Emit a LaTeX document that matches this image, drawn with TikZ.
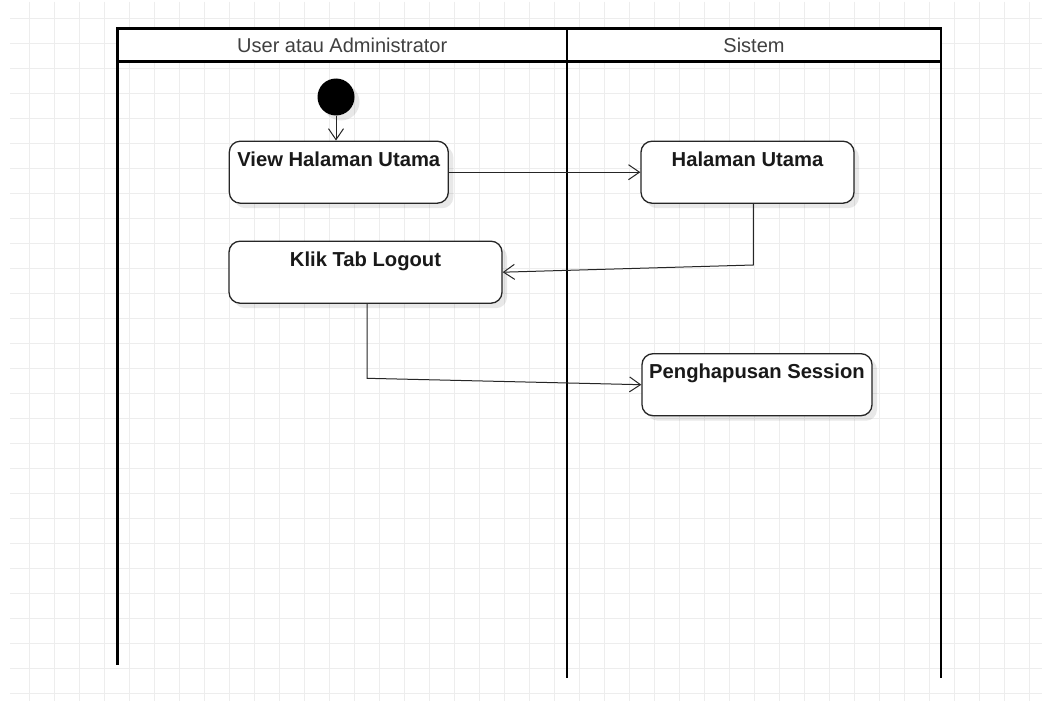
\documentclass[tikz,border=0pt]{standalone}
\usepackage{fontspec}
\setmainfont{Liberation Sans}
\usetikzlibrary{arrows.meta,shadows,calc}
\begin{document}
\begin{tikzpicture}[x=1pt,y=-1pt,
  gridline/.style={draw=black!7, line width=1pt},
  lane/.style={draw=black, line width=2.5pt},
  lanehead/.style={draw=black, line width=2.5pt, fill=white, font=\fontsize{20}{24}\selectfont, text=black!75, inner sep=0pt, minimum height=32.6pt},
  act/.style={draw=black!85, line width=1.3pt, rounded corners=11pt, fill=white,
    font=\bfseries\fontsize{20.2}{24}\selectfont, text=black!90,
    inner xsep=0pt, inner ysep=5pt, text height=20pt, text depth=32pt,
    drop shadow={shadow xshift=5pt, shadow yshift=-5pt, opacity=0.09, fill=black}},
  startnode/.style={circle, fill=black, minimum size=37pt, inner sep=0pt,
    drop shadow={shadow xshift=5pt, shadow yshift=-5pt, opacity=0.09, fill=black}},
  flow/.style={draw=black!85, line width=1pt, -{Straight Barb[length=11pt,width=15pt]}}
]
\useasboundingbox (0,0) rectangle (1042,701);
\fill[white] (0,0) rectangle (1042,701);
% grid
\foreach \k in {0,...,27} \draw[gridline] (10,{18.3+25*\k}) -- (1042,{18.3+25*\k});
\foreach \k in {0,...,40} \draw[gridline] ({29.3+25*\k},2) -- ({29.3+25*\k},701);
% swimlanes
\draw[lane] (117.5,28.7) -- (117.5,665);
\draw[lane] (567,28.7) -- (567,678);
\draw[lane] (941,28.7) -- (941,678);
\node[lanehead, minimum width=449.5pt] (h1) at (342.25,45) {User atau Administrator};
\node[lanehead, minimum width=374pt] (h2) at (754,45) {Sistem};
% nodes
\node[startnode] (start) at (336,97) {};
\node[act, minimum width=219pt] (view) at (338.8,172.2) {View Halaman Utama};
\node[act, minimum width=273pt] (klik) at (365.5,272.2) {Klik Tab Logout};
\node[act, minimum width=213pt] (hal) at (747.5,172.2) {Halaman Utama};
\node[act, minimum width=230pt] (pen) at (757,384.7) {Penghapusan Session};
% connectors
\coordinate (b1) at (753.3,265);
\coordinate (b2) at (367,378.3);
\draw[flow] (start.south) -- (start.south |- view.north);
\draw[flow] (view.east) -- (hal.west);
\draw[flow] (hal.south -| b1) -- (b1) -- (klik.east);
\draw[flow] (klik.south -| b2) -- (b2) -- (pen.west);
\end{tikzpicture}
\end{document}
